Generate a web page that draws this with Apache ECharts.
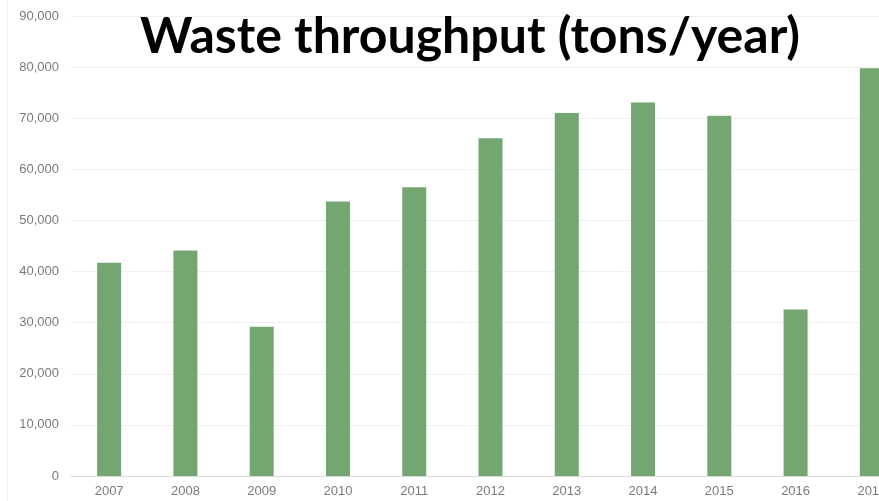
<!DOCTYPE html>
<html>
<head>
<meta charset="utf-8">
<script src="https://cdn.jsdelivr.net/npm/echarts@6/dist/echarts.min.js"></script>
<style>
html,body{margin:0;padding:0;background:#fff;overflow:hidden;width:879px;height:501px;}
#chart{width:910px;height:501px;}
</style>
</head>
<body>
<div id="chart"></div>
<script>
const titleText = 'Waste throughput (tons/year)';
const years = ['2007','2008','2009','2010','2011','2012','2013','2014','2015','2016','2017'];
const throughput = [41700, 44100, 29200, 53700, 56500, 66100, 71000, 73100, 70500, 32600, 79800];

const chart = echarts.init(document.getElementById('chart'), null, {renderer: 'canvas'});
chart.setOption({
  animation: false,
  backgroundColor: '#ffffff',
  grid: {left: 71, top: 16, right: 0, bottom: 25, containLabel: false},
  xAxis: {
    type: 'category',
    data: years,
    boundaryGap: true,
    axisLine: {show: true, lineStyle: {color: '#dcdcdc', width: 1}},
    axisTick: {show: false},
    axisLabel: {color: '#7a7a7a', fontSize: 13, fontFamily: 'Liberation Sans, Arial, sans-serif', margin: 9}
  },
  yAxis: {
    type: 'value',
    min: 0, max: 90000, interval: 10000,
    axisLine: {show: false},
    axisTick: {show: false},
    splitLine: {lineStyle: {color: '#efefef', width: 1}},
    axisLabel: {
      color: '#7a7a7a', fontSize: 13, fontFamily: 'Liberation Sans, Arial, sans-serif', margin: 12,
      formatter: v => v.toLocaleString('en-US')
    }
  },
  series: [{
    type: 'bar',
    data: throughput,
    barWidth: 24,
    itemStyle: {color: '#74a672'}
  }],
  graphic: [
    {type: 'line', shape: {x1: 7.5, y1: 0, x2: 7.5, y2: 501}, style: {stroke: '#f2f2f2', lineWidth: 1}, silent: true},
    {type: 'text', x: 470, y: 37, style: {text: titleText, fill: '#000', font: 'bold 50px Lato, "Open Sans", sans-serif', textAlign: 'center', textVerticalAlign: 'middle'}, z: 100}
  ]
});
</script>
</body>
</html>
